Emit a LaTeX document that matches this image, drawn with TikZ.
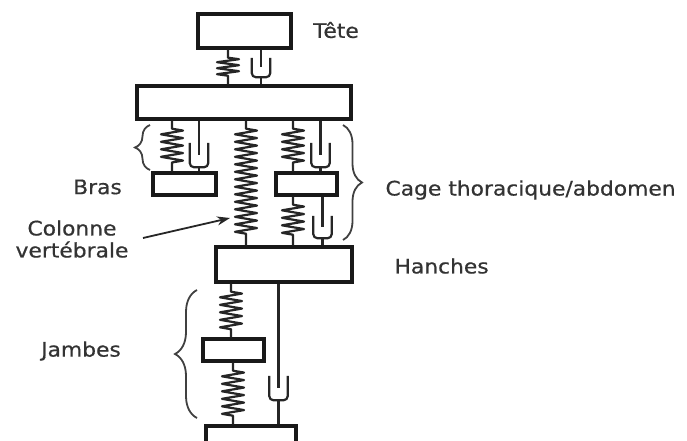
\documentclass[tikz,border=0pt]{standalone}
\usepackage{fontspec}
\setmainfont[FakeStretch=1.09,FakeBold=0.6]{DejaVu Sans}
\usetikzlibrary{decorations.pathmorphing,decorations.pathreplacing,arrows.meta}
\begin{document}
\begin{tikzpicture}[
    x=1pt, y=-1pt,
    every node/.style={font=\fontsize{20}{22}\selectfont, text=black!80},
    bloc/.style={rectangle, draw=black!90, line width=3.4pt, inner sep=0pt},
    cup/.style={rectangle, inner sep=0pt, minimum width=18pt},
    link/.style={black!85, line width=2.2pt},
    spring/.style={link, line join=round, decorate, decoration={zigzag, amplitude=11pt, segment length=#1, pre length=8pt, post length=8pt}},
    spring/.default=7.5pt,
    bracket/.style={black!75, line width=1.8pt, decorate, decoration={brace, amplitude=#1}},
    bracket/.default=9pt,
]
\useasboundingbox (0,0) rectangle (687,441);

% masses
\node[bloc, minimum width=93pt, minimum height=34pt] (head) at (244.5,31) {};
\node[bloc, minimum width=214pt, minimum height=33pt] (torso) at (244,102.5) {};
\node[bloc, minimum width=63pt, minimum height=22pt] (arm) at (184.5,184) {};
\node[bloc, minimum width=61pt, minimum height=22pt] (ribs) at (306.5,184) {};
\node[bloc, minimum width=136pt, minimum height=35pt] (hips) at (284,264.5) {};
\node[bloc, minimum width=61pt, minimum height=22pt] (thigh) at (233.5,350) {};
\node[bloc, minimum width=90pt, minimum height=30pt] (foot) at (251,441) {};

% springs
\coordinate (sh) at (228,0);
\coordinate (sa) at (172,0);
\coordinate (sc) at (246,0);
\coordinate (sr) at (293,0);
\coordinate (st) at (231,0);
\coordinate (sf) at (233,0);
\draw[spring=6pt] (head.south -| sh) -- (torso.north -| sh);
\draw[spring] (torso.south -| sa) -- (arm.north -| sa);
\draw[spring] (torso.south -| sc) -- (hips.north -| sc);
\draw[spring] (torso.south -| sr) -- (ribs.north -| sr);
\draw[spring] (ribs.south -| sr) -- (hips.north -| sr);
\draw[spring] (hips.south -| st) -- (thigh.north -| st);
\draw[spring] (thigh.south -| sf) -- (foot.north -| sf);

% dampers
\foreach \cupname/\pos/\cuph/\from/\to in {
    hc/{261,67.5}/19/head/torso,
    ac/{199,155}/24/torso/arm,
    rc/{320.5,155}/24/torso/ribs,
    lc/{322.5,227}/22/ribs/hips,
    tc/{278.5,388}/24/hips/foot} {
  \node[cup, minimum height=\cuph pt] (\cupname) at (\pos) {};
  \draw[link, rounded corners=4pt] (\cupname.north west) -- (\cupname.south west) -- (\cupname.south east) -- (\cupname.north east);
  \draw[link] (\from.south -| \cupname) -- (\cupname.center);
  \draw[link] (\cupname.south) -- (\to.north -| \cupname);
}

% braces
\coordinate (ba) at (150,125);
\coordinate (bb) at (150,170);
\coordinate (bc) at (343,125);
\coordinate (bd) at (343,240);
\coordinate (be) at (197,418);
\coordinate (bf) at (197,290);
\draw[bracket=15pt] (bb) -- (ba);
\draw[bracket=19pt] (bc) -- (bd);
\draw[bracket=22pt] (be) -- (bf);

% labels
\node (tete) at (336,30) {Tête};
\node (bras) at (97.5,187) {Bras};
\node[align=center] (colonne) at (72,239) {Colonne\\vertébrale};
\node[anchor=west] (cage) at (382,190) {Cage thoracique/abdomen};
\node[anchor=west] (hanches) at (391,266) {Hanches};
\node (jambes) at (81,351) {Jambes};

\coordinate (ca) at (143,238);
\coordinate (cs) at (230,218);
\draw[-{Stealth[length=13pt,width=9pt]}, black!85, line width=1.8pt] (ca) -- (cs);
\end{tikzpicture}
\end{document}
